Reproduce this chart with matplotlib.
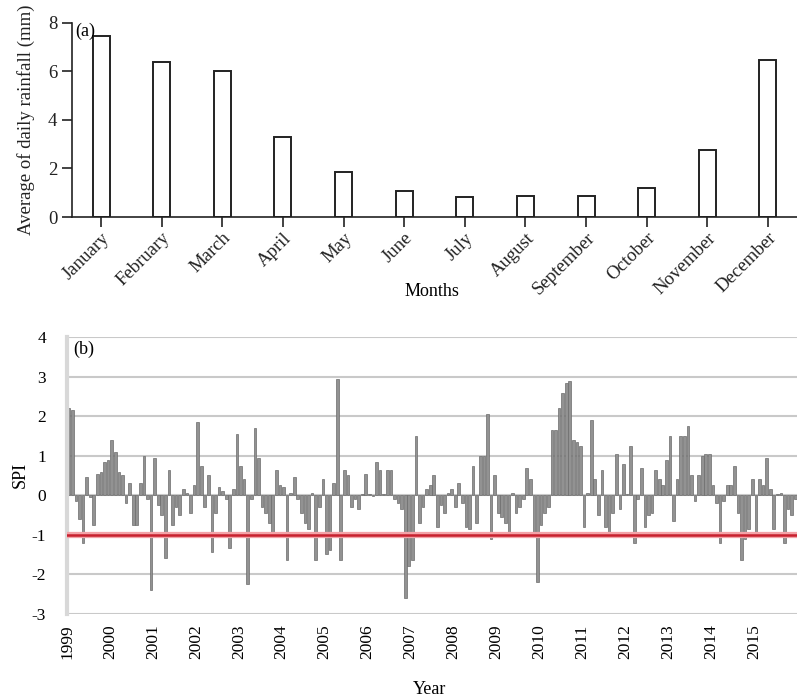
import matplotlib
matplotlib.use("Agg")
import matplotlib.pyplot as plt
import numpy as np

plt.rcParams['font.family'] = ['Liberation Serif', 'DejaVu Serif']

# (a) monthly average of daily rainfall
months = ['January', 'February', 'March', 'April', 'May', 'June', 'July',
          'August', 'September', 'October', 'November', 'December']
rain = [7.45, 6.37, 6.0, 3.3, 1.85, 1.08, 0.81, 0.86, 0.86, 1.19, 2.76, 6.46]

# (b) monthly SPI, Jan 1999 .. Dec 2015
years = list(range(1999, 2016))
spi_1999 = [2.2, 2.15, -0.15, -0.6, -1.2, 0.45, -0.05, -0.75, 0.55, 0.6, 0.85, 0.9]
spi_2000 = [1.4, 1.1, 0.6, 0.5, -0.2, 0.3, -0.75, -0.75, 0.3, 1.0, -0.1, -2.4]
spi_2001 = [0.95, -0.25, -0.5, -1.6, 0.65, -0.75, -0.3, -0.5, 0.15, 0.05, -0.45, 0.25]
spi_2002 = [1.85, 0.75, -0.3, 0.5, -1.45, -0.45, 0.2, 0.1, -0.1, -1.35, 0.15, 1.55]
spi_2003 = [0.75, 0.4, -2.25, -0.1, 1.7, 0.95, -0.3, -0.45, -0.7, -1.05, 0.65, 0.25]
spi_2004 = [0.2, -1.65, 0.05, 0.45, -0.1, -0.45, -0.7, -0.85, 0.05, -1.65, -0.3, 0.4]
spi_2005 = [-1.5, -1.4, 0.3, 2.95, -1.65, 0.65, 0.5, -0.3, -0.1, -0.35, 0.02, 0.55]
spi_2006 = [0.02, -0.02, 0.85, 0.65, 0.03, 0.65, 0.65, -0.1, -0.2, -0.35, -2.6, -1.8]
spi_2007 = [-1.65, 1.5, -0.7, -0.3, 0.15, 0.25, 0.5, -0.8, -0.25, -0.45, 0.05, 0.15]
spi_2008 = [-0.3, 0.3, -0.2, -0.8, -0.85, 0.75, -0.7, 1.0, 1.0, 2.05, -1.1, 0.5]
spi_2009 = [-0.45, -0.55, -0.7, -0.95, 0.05, -0.45, -0.3, -0.1, 0.7, 0.4, -0.95, -2.2]
spi_2010 = [-0.75, -0.45, -0.3, 1.65, 1.65, 2.2, 2.6, 2.85, 2.9, 1.4, 1.35, 1.25]
spi_2011 = [-0.8, 0.05, 1.9, 0.4, -0.5, 0.65, -0.8, -1.05, -0.45, 1.05, -0.35, 0.8]
spi_2012 = [0.02, 1.25, -1.2, -0.1, 0.7, -0.8, -0.5, -0.45, 0.65, 0.4, 0.25, 0.9]
spi_2013 = [1.5, -0.65, 0.4, 1.5, 1.5, 1.75, 0.5, -0.15, 0.5, 1.0, 1.05, 1.05]
spi_2014 = [0.25, -0.2, -1.2, -0.15, 0.25, 0.25, 0.75, -0.45, -1.65, -1.1, -0.85, 0.4]
spi_2015 = [-0.95, 0.4, 0.25, 0.95, 0.15, -0.85, 0.02, 0.05, -1.2, -0.35, -0.5, -0.1]
spi = (spi_1999 + spi_2000 + spi_2001 + spi_2002 + spi_2003 + spi_2004 + spi_2005
       + spi_2006 + spi_2007 + spi_2008 + spi_2009 + spi_2010 + spi_2011 + spi_2012
       + spi_2013 + spi_2014 + spi_2015)

W, H = 797, 700
fig = plt.figure(figsize=(W / 100, H / 100), dpi=100)

# ---- panel (a)
ax1 = fig.add_axes([72 / W, (H - 217) / H, 725 / W, (217 - 22.5) / H])
x = np.arange(len(months))
ax1.bar(x, rain, width=0.28, color='white', edgecolor='#222222', linewidth=1.4)
ax1.set_xlim(-0.48, 11.48)
ax1.set_ylim(0, 8)
ax1.set_yticks([0, 2, 4, 6, 8])
ax1.set_xticks(x)
ax1.set_xticklabels(months, rotation=45, ha='right', rotation_mode='anchor', fontsize=12.5)
ax1.tick_params(direction='out', length=7, width=1.2, colors='#222222', labelsize=13.5)
ax1.tick_params(axis='x', pad=2)
for s in ['top', 'right']:
    ax1.spines[s].set_visible(False)
for s in ['left', 'bottom']:
    ax1.spines[s].set_linewidth(1.2)
    ax1.spines[s].set_color('#222222')
ax1.text(0.005, 1.0, '(a)', transform=ax1.transAxes, fontsize=13, va='top', ha='left')
fig.text(26 / W, 1 - 120 / H, 'Average of daily rainfall (mm)', rotation=90,
         fontsize=13.5, ha='center', va='center', color='#222222')
fig.text(432 / W, 1 - 292 / H, 'Months', fontsize=13, ha='center', va='center')

# ---- panel (b)
ax2 = fig.add_axes([67 / W, (H - 613.5) / H, 730 / W, (613.5 - 337.5) / H])
xs = np.arange(len(spi)) + 0.5
ax2.bar(xs, spi, width=0.75, color='#929292', edgecolor='#6c6c6c', linewidth=0.5, zorder=2)
ax2.axhline(-1, color='#f3a3a8', linewidth=4.5, zorder=3)
ax2.axhline(-1, color='#c8202e', linewidth=1.8, zorder=4)
ax2.set_xlim(0, len(spi))
ax2.set_ylim(-3, 4)
ax2.set_yticks(range(-3, 5))
ax2.set_yticklabels([str(v) for v in range(-3, 5)])
ax2.yaxis.grid(True, color='#c9c9c9', linewidth=1.5, zorder=0)
ax2.set_axisbelow(True)
ax2.set_xticks(np.arange(len(years)) * 12)
ax2.set_xticklabels([str(y) for y in years], rotation=90, fontsize=12)
ax2.tick_params(length=0, labelsize=12.5)
ax2.tick_params(axis='y', pad=15)
ax2.tick_params(axis='x', pad=8)
for s in ['top', 'right', 'bottom']:
    ax2.spines[s].set_visible(False)
ax2.spines['left'].set_color('#d8d8d8')
ax2.spines['left'].set_linewidth(3)
ax2.text(0.008, 0.99, '(b)', transform=ax2.transAxes, fontsize=13, va='top', ha='left')
fig.text(20 / W, 1 - 475 / H, 'SPI', rotation=90, fontsize=13, ha='center', va='center')
fig.text(430 / W, 1 - 690 / H, 'Year', fontsize=13, ha='center', va='center')

fig.savefig('out.png', dpi=100)
